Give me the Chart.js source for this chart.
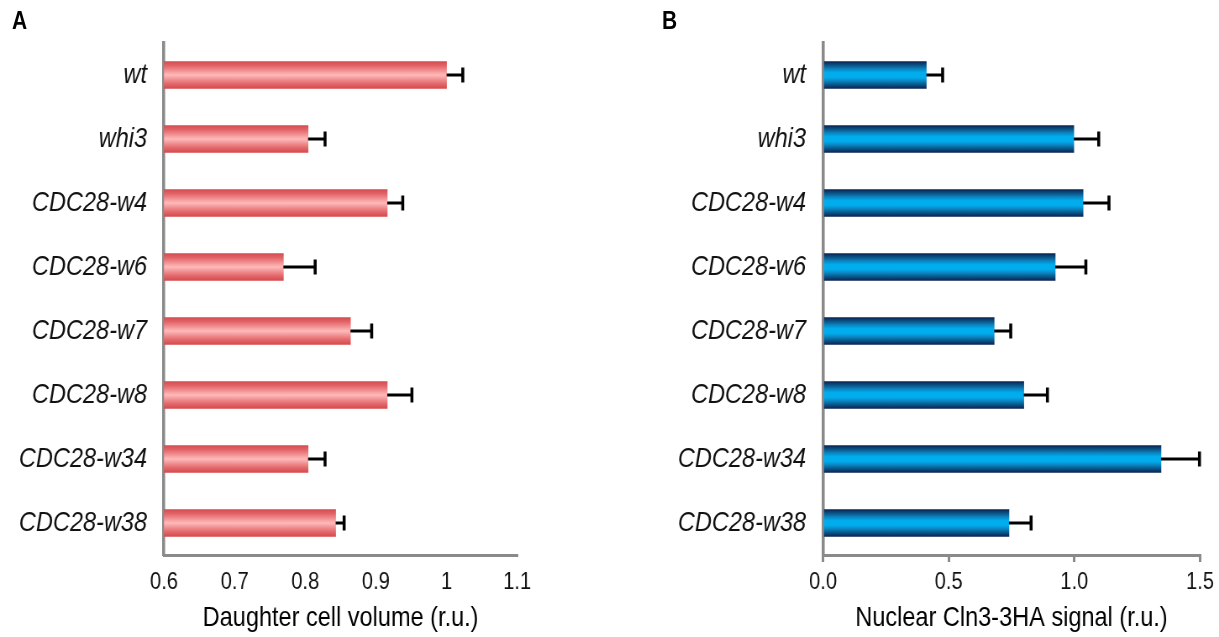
<!DOCTYPE html>
<html>
<head>
<meta charset="utf-8">
<script src="https://cdn.jsdelivr.net/npm/chart.js@4.4.0/dist/chart.umd.min.js"></script>
<style>
  body { margin: 0; background: #fff; width: 1219px; height: 637px; position: relative; overflow: hidden; font-family: "Liberation Sans", Arial, sans-serif; }
  canvas, .letter { position: absolute; top: 0; transform-origin: 0 0; }
  .letter { top: 6px; font-weight: bold; font-size: 25px; color: #000; }
</style>
</head>
<body>
<canvas id="chartA" width="649" height="637" style="left:0"></canvas>
<canvas id="chartB" width="725" height="637" style="left:610px"></canvas>
<div class="letter" style="left:12px">A</div>
<div class="letter" style="left:662px">B</div>
<script>
// data
const strains = ["wt", "whi3", "CDC28-w4", "CDC28-w6", "CDC28-w7", "CDC28-w8", "CDC28-w34", "CDC28-w38"];

const volume = [1.0, 0.804, 0.916, 0.769, 0.864, 0.916, 0.804, 0.843];
const volumeErr = [0.023, 0.024, 0.022, 0.045, 0.030, 0.035, 0.024, 0.012];

const cln3 = [0.411, 0.998, 1.035, 0.924, 0.681, 0.799, 1.345, 0.740];
const cln3Err = [0.065, 0.099, 0.103, 0.122, 0.066, 0.094, 0.153, 0.088];

const ticksA = [0.6, 0.7, 0.8, 0.9, 1.0, 1.1];
const tickLabelsA = ["0.6", "0.7", "0.8", "0.9", "1", "1.1"];
const ticksB = [0, 0.5, 1.0, 1.5];
const tickLabelsB = ["0.0", "0.5", "1.0", "1.5"];

const titleA = "Daughter cell volume (r.u.)";
const titleB = "Nuclear Cln3-3HA signal (r.u.)";

// the original figure is squeezed sideways, so draw wider and scale x down
const squeeze = 0.84;
document.querySelectorAll("canvas, .letter").forEach(el => {
  el.style.transform = "scaleX(" + squeeze + ")";
});
const sx = v => v / squeeze;

const family = '"Liberation Sans", Arial, sans-serif';
const barHeight = 27;
const axisGray = "#8a8a8a";

const redStops = [[0, "#d64a4d"], [0.18, "#e4696c"], [0.5, "#ffbaba"], [0.82, "#e4696c"], [1, "#d64a4d"]];
const blueStops = [[0, "#0a2452"], [0.3, "#0a8cc8"], [0.42, "#00aeef"], [0.58, "#00aeef"], [0.7, "#0a8cc8"], [1, "#0a2452"]];

function barGradient(context, stops) {
  const chart = context.chart;
  if (!chart.chartArea) return stops[2][1];
  const y = chart.scales.y.getPixelForValue(context.dataIndex);
  const g = chart.ctx.createLinearGradient(0, y - barHeight / 2, 0, y + barHeight / 2);
  stops.forEach(s => g.addColorStop(s[0], s[1]));
  return g;
}

// error bars on the right end of each bar
const errorBars = {
  id: "errorBars",
  afterDatasetsDraw(chart, args, opts) {
    const ctx = chart.ctx;
    const x = chart.scales.x;
    const y = chart.scales.y;
    const values = chart.data.datasets[0].data;
    ctx.save();
    ctx.strokeStyle = "#000";
    values.forEach((v, i) => {
      const x0 = x.getPixelForValue(v);
      const x1 = x.getPixelForValue(v + opts.errors[i]);
      const yc = y.getPixelForValue(i);
      ctx.lineWidth = 3;
      ctx.beginPath();
      ctx.moveTo(x0, yc);
      ctx.lineTo(x1, yc);
      ctx.stroke();
      ctx.lineWidth = sx(3);
      ctx.beginPath();
      ctx.moveTo(x1, yc - 7.5);
      ctx.lineTo(x1, yc + 7.5);
      ctx.stroke();
    });
    ctx.restore();
  },
};

function makeChart(id, values, errors, stops, min, max, tickValues, tickLabels, title, pad, yWidth, showTickMarks) {
  const ctx = document.getElementById(id).getContext("2d");
  return new Chart(ctx, {
    type: "bar",
    data: {
      labels: strains,
      datasets: [
        {
          data: values,
          backgroundColor: c => barGradient(c, stops),
          borderWidth: 0,
          barThickness: barHeight,
        },
      ],
    },
    plugins: [errorBars],
    options: {
      indexAxis: "y",
      responsive: false,
      animation: false,
      devicePixelRatio: 1,
      layout: { padding: pad },
      plugins: {
        legend: { display: false },
        tooltip: { enabled: false },
        errorBars: { errors: errors },
      },
      scales: {
        x: {
          min: min,
          max: max,
          afterBuildTicks: s => { s.ticks = tickValues.map(v => ({ value: v })); },
          afterFit: s => { s.height = 80; },
          ticks: {
            callback: (v, i) => tickLabels[i],
            color: "#111",
            font: { family: family, size: 24 },
            padding: showTickMarks ? 6 : 13,
            maxRotation: 0,
          },
          grid: {
            display: showTickMarks,
            drawOnChartArea: false,
            drawTicks: showTickMarks,
            tickLength: 7,
            color: axisGray,
            lineWidth: sx(2.5),
          },
          border: { color: axisGray, width: 3 },
          title: {
            display: true,
            text: title,
            color: "#000",
            font: { family: family, size: 28 },
            padding: { top: 0, bottom: 0 },
          },
        },
        y: {
          afterFit: s => { s.width = sx(yWidth); },
          ticks: {
            color: "#111",
            font: { family: family, size: 28, style: "italic" },
            padding: sx(17),
          },
          grid: { display: false, drawTicks: false },
          border: { color: axisGray, width: sx(3) },
        },
      },
    },
  });
}

const chartA = makeChart("chartA", volume, volumeErr, redStops, 0.6, 1.1, ticksA, tickLabelsA, titleA,
  { left: sx(14), right: sx(28), top: 43, bottom: 2 }, 150, false);
const chartB = makeChart("chartB", cln3, cln3Err, blueStops, 0, 1.5, ticksB, tickLabelsB, titleB,
  { left: sx(13), right: sx(17), top: 43, bottom: 2 }, 200, true);
</script>
</body>
</html>
